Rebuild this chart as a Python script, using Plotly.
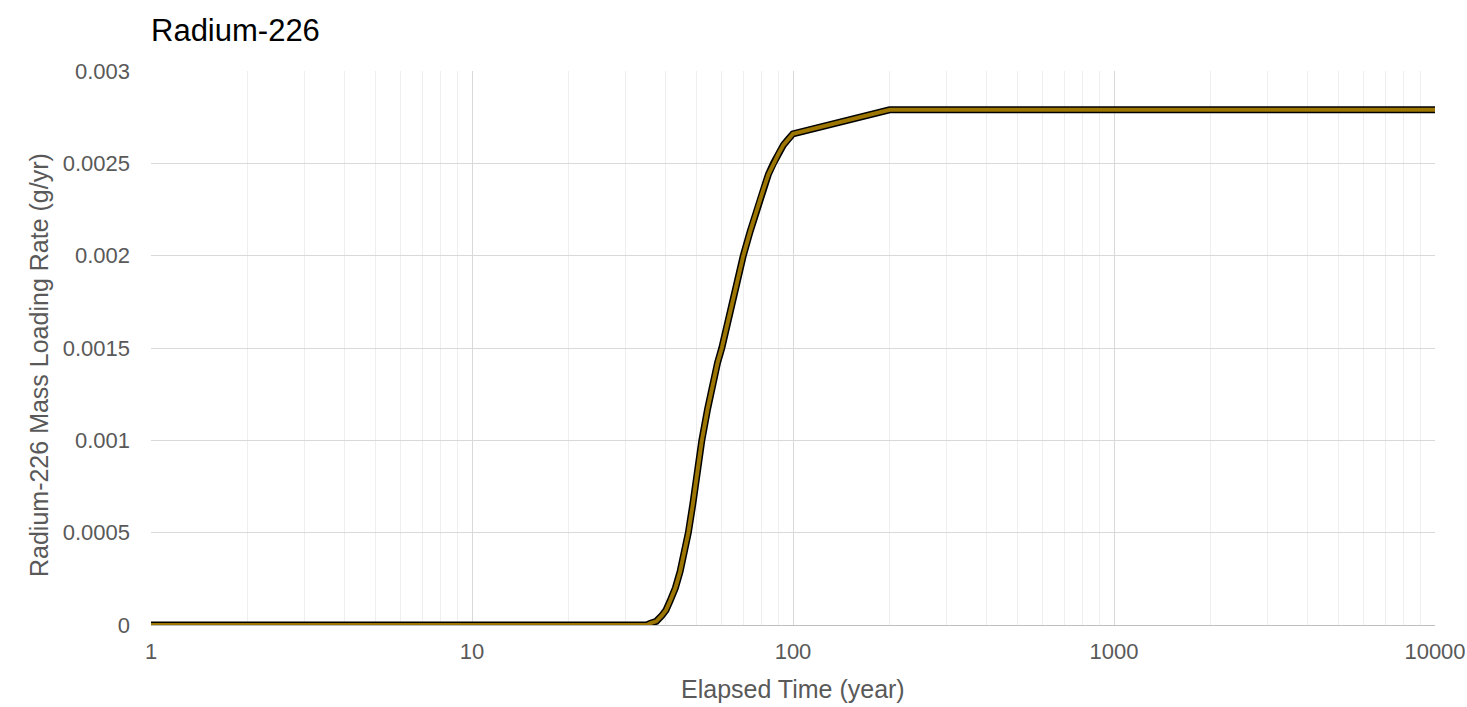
import plotly.graph_objects as go

time_years = [1, 5, 10, 20, 30, 35, 36, 37.5, 39, 40.2, 41.4, 43, 44.5, 46, 47.2, 48.7, 50.1, 52.0, 54.2, 56.5, 58.2, 60, 62.2, 64.4, 67.2, 70, 73.5, 77, 80.9, 83.8, 86.9, 90, 93.4, 96.6, 100, 200, 500, 1000, 5000, 10000]
mass_rate = [0, 0, 0, 0, 0, 0, 0.00001, 0.00002, 0.00005, 0.00008, 0.00013, 0.0002, 0.00029, 0.0004, 0.0005, 0.00065, 0.00081, 0.001, 0.00117, 0.00133, 0.00142, 0.0015, 0.00162, 0.00173, 0.00187, 0.002, 0.00213, 0.00225, 0.00236, 0.00244, 0.0025, 0.00255, 0.0026, 0.00263, 0.00266, 0.00279, 0.00279, 0.00279, 0.00279, 0.00279]

x_tick_vals = [1, 10, 100, 1000, 10000]
x_tick_text = ["1", "10", "100", "1000", "10000"]
y_tick_vals = [0, 0.0005, 0.001, 0.0015, 0.002, 0.0025, 0.003]
y_tick_text = ["0", "0.0005", "0.001", "0.0015", "0.002", "0.0025", "0.003"]

title_text = "Radium-226"
x_title = "Elapsed Time (year)"
y_title = "Radium-226 Mass Loading Rate (g/yr)"

W, H = 1467, 707
L, R, T, B = 151, 32, 71, 82
PW, PH = W - L - R, H - T - B

fig = go.Figure()
fig.add_trace(go.Scatter(x=time_years, y=mass_rate, mode="lines",
                         line=dict(color="black", width=7), showlegend=False, hoverinfo="skip"))
fig.add_trace(go.Scatter(x=time_years, y=mass_rate, mode="lines",
                         line=dict(color="#9C7600", width=4), showlegend=False, name="Radium-226"))

font_family = "Liberation Sans, Arial, sans-serif"
fig.update_layout(
    width=W, height=H,
    margin=dict(l=L, r=R, t=T, b=B, autoexpand=False),
    paper_bgcolor="white", plot_bgcolor="white",
    font=dict(family=font_family, color="#595959", size=22),
    title=dict(text=title_text, x=L / W, xanchor="left", y=1 - 30 / H, yanchor="middle",
               font=dict(family=font_family, size=31, color="black")),
    xaxis=dict(type="log", range=[0, 4], tickvals=x_tick_vals, ticktext=x_tick_text,
               showgrid=True, gridcolor="#d9d9d9", gridwidth=1.3,
               minor=dict(showgrid=True, gridcolor="#eeeeee", gridwidth=1, dtick="D1"),
               showline=True, linecolor="#bfbfbf", linewidth=1.3, ticks="",
               ticklabelstandoff=6, ticklabeloverflow="allow", zeroline=False,
               tickfont=dict(size=22), automargin=False),
    yaxis=dict(range=[0, 0.003], tickvals=y_tick_vals, ticktext=y_tick_text,
               showgrid=True, gridcolor="#d9d9d9", gridwidth=1.3, zeroline=False,
               ticks="", ticklabelstandoff=20, ticklabeloverflow="allow",
               tickfont=dict(size=22), automargin=False),
    annotations=[
        dict(text=x_title, xref="paper", yref="paper", x=0.5, y=-(689 - (T + PH)) / PH,
             xanchor="center", yanchor="middle", showarrow=False,
             font=dict(family=font_family, size=25, color="#595959")),
        dict(text=y_title, xref="paper", yref="paper", x=(39 - L) / PW, y=(T + PH - 365) / PH,
             xanchor="center", yanchor="middle", textangle=-90, showarrow=False,
             font=dict(family=font_family, size=25, color="#595959")),
    ],
)
fig.write_html("out.html", config={"displayModeBar": False},
               post_script="document.body.style.margin='0';document.body.style.overflow='hidden';")
